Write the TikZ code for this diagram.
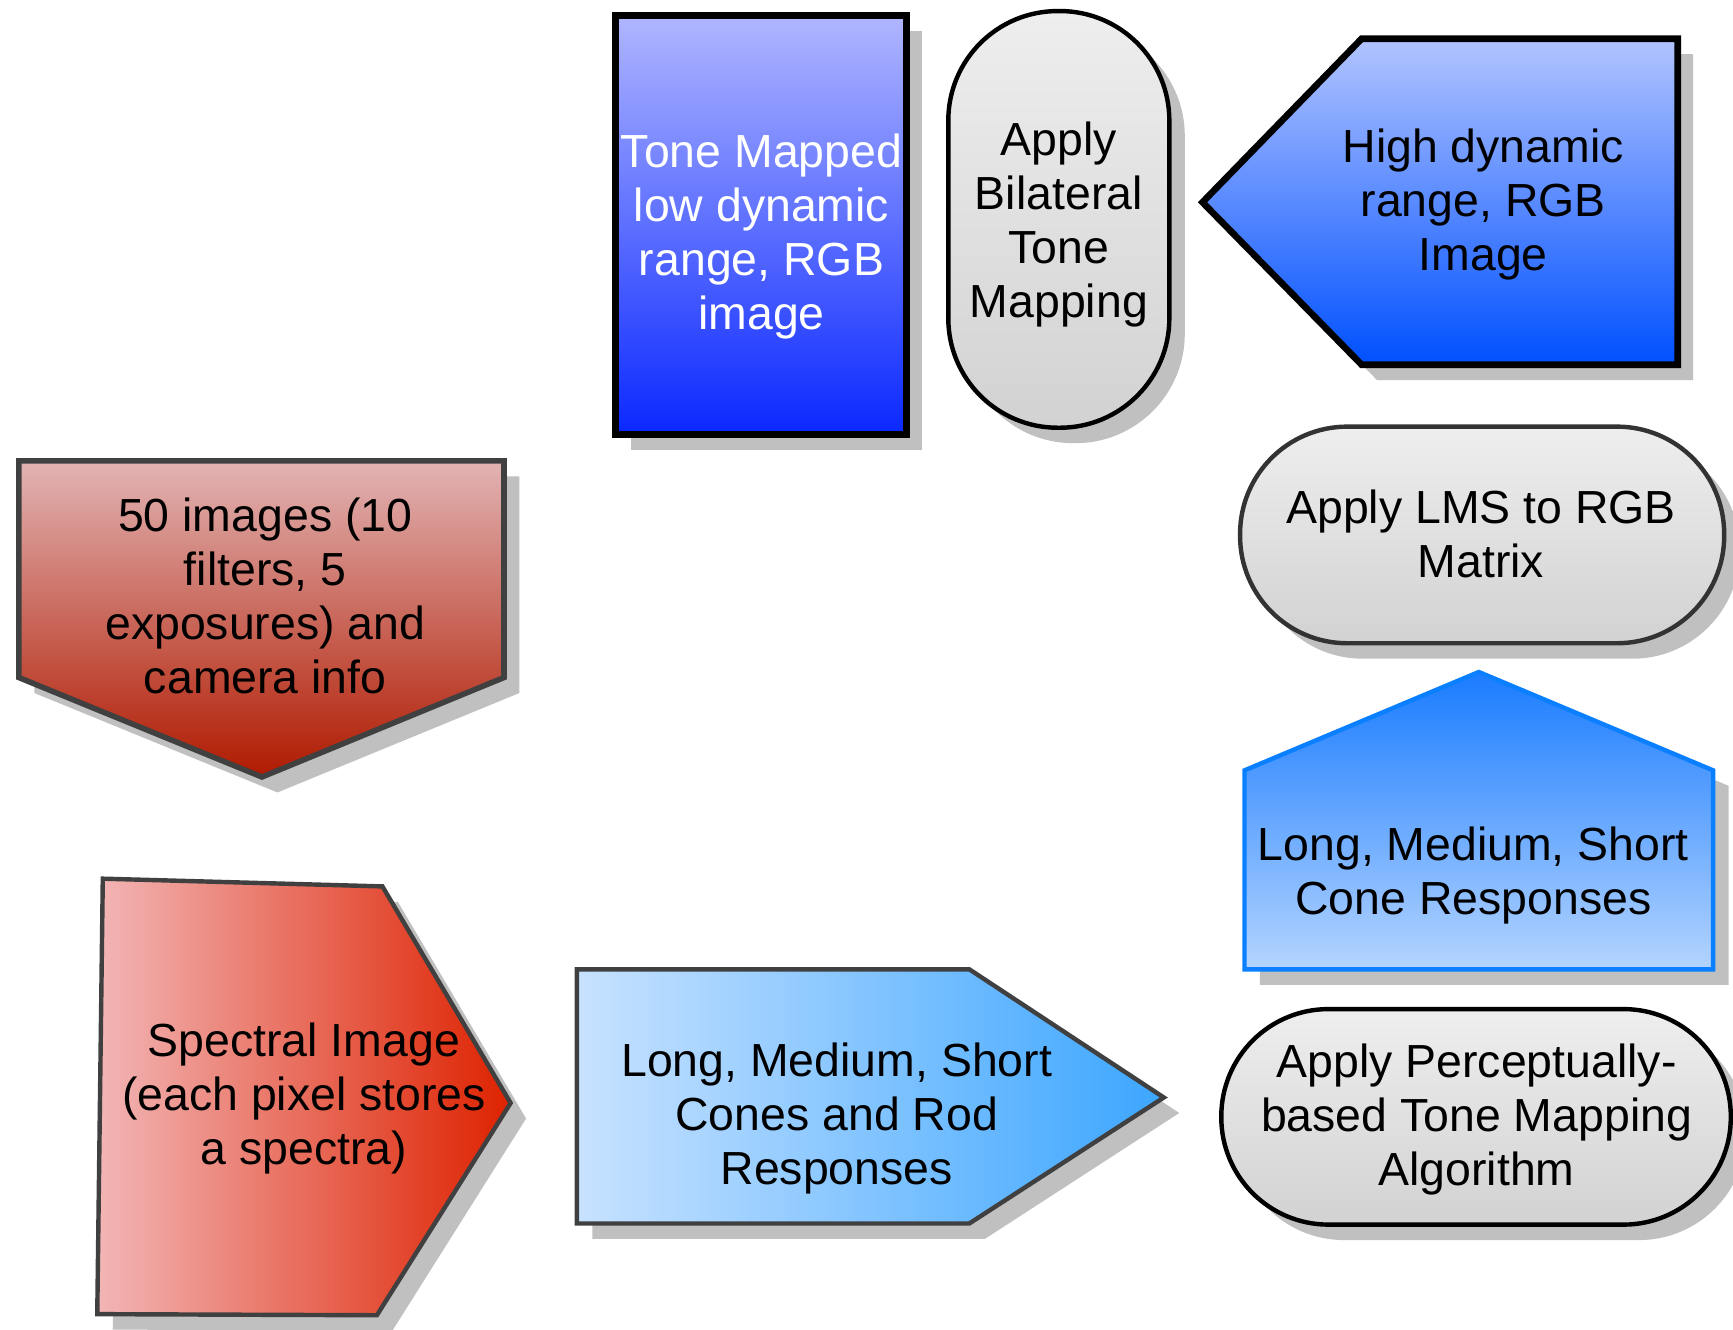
\documentclass[tikz,border=0pt]{standalone}
\usepackage{fontspec}
\setmainfont{Liberation Sans}
\usetikzlibrary{shadows}

% shape fills, borders and the common drop shadow
\definecolor{shadowgrey}{RGB}{192,192,192}
\definecolor{edgegrey}{HTML}{404040}
\definecolor{tmTop}{HTML}{B0B6FF}
\definecolor{tmBot}{HTML}{0A28FF}
\definecolor{hdrTop}{HTML}{B2C4FF}
\definecolor{hdrBot}{HTML}{0050FF}
\definecolor{greyTop}{HTML}{EEEEEE}
\definecolor{greyBot}{HTML}{D2D2D2}
\definecolor{coneTop}{HTML}{1A7CFF}
\definecolor{coneBot}{HTML}{B4D4FF}
\definecolor{coneEdge}{HTML}{0A7FFF}
\definecolor{rodLeft}{HTML}{C8E2FF}
\definecolor{rodRight}{HTML}{3CA6FF}
\definecolor{specLeft}{HTML}{F2B6B6}
\definecolor{specRight}{HTML}{DE2200}
\definecolor{fiftyTop}{HTML}{E2B4B4}
\definecolor{fiftyBot}{HTML}{B01A00}

\tikzset{
  dropbox/.style={drop shadow={shadow xshift=14pt, shadow yshift=-14pt,
      fill=shadowgrey, opacity=1}},
  lbl/.style={font=\fontsize{42}{49}\selectfont, align=center,
      text=black, inner sep=0pt},
  pill/.style={dropbox, line width=4pt, top color=greyTop, bottom color=greyBot}
}

\begin{document}
\begin{tikzpicture}[x=1pt,y=-1pt]
\useasboundingbox (0,0) rectangle (1568,1203);

% output image
\shadedraw[dropbox, line width=6pt, draw=black, top color=tmTop, bottom color=tmBot]
  (557,14) rectangle (820,393);
\node[lbl, text=white] (tonemapped) at (689,214)
  {Tone Mapped\\low dynamic\\range, RGB\\image};

% bilateral tone mapping step
\shadedraw[pill, draw=black, rounded corners=99pt] (858,10) rectangle (1058,387);
\node[lbl] (bilateral) at (958,203) {Apply\\Bilateral\\Tone\\Mapping};

% HDR image
\shadedraw[dropbox, line width=6pt, draw=black, top color=hdrTop, bottom color=hdrBot]
  (1088,183) -- (1232,35) -- (1518,35) -- (1518,330) -- (1232,330) -- cycle;
\node[lbl] (hdr) at (1342,185) {High dynamic\\range, RGB\\Image};

% LMS to RGB step
\shadedraw[pill, draw=edgegrey!80!black, rounded corners=97pt] (1122,386) rectangle (1560,582);
\node[lbl] (lmsrgb) at (1340,483) {Apply LMS to RGB\\Matrix};

% cone responses
\shadedraw[dropbox, line width=4pt, draw=coneEdge, top color=coneTop, bottom color=coneBot]
  (1338,608) -- (1550,697) -- (1550,877) -- (1126,877) -- (1126,697) -- cycle;
\node[lbl] (cones) at (1333,792) {Long, Medium, Short\\Cone Responses};

% perceptual tone mapping step
\shadedraw[pill, draw=black, rounded corners=97pt] (1105,913) rectangle (1566,1108);
\node[lbl] (perceptual) at (1336,1013)
  {Apply Perceptually-\\based Tone Mapping\\Algorithm};

% cone and rod responses
\shadedraw[dropbox, line width=4pt, draw=edgegrey, left color=rodLeft, right color=rodRight]
  (522,877) -- (877,877) -- (1053,993) -- (877,1107) -- (522,1107) -- cycle;
\node[lbl] (rods) at (757,1012) {Long, Medium, Short\\Cones and Rod\\Responses};

% spectral image
\shadedraw[dropbox, line width=4pt, draw=edgegrey, left color=specLeft, right color=specRight]
  (93,795) -- (346,802) -- (462,998) -- (341,1190) -- (88,1189) -- cycle;
\node[lbl] (spectral) at (275,994) {Spectral Image\\(each pixel stores\\a spectra)};

% captured input
\shadedraw[dropbox, line width=5pt, draw=edgegrey, top color=fiftyTop, bottom color=fiftyBot]
  (17,417) -- (456,417) -- (456,613) -- (237,703) -- (17,613) -- cycle;
\node[lbl] (captures) at (240,539)
  {50 images (10\\filters, 5\\exposures) and\\camera info};
\end{tikzpicture}
\end{document}
